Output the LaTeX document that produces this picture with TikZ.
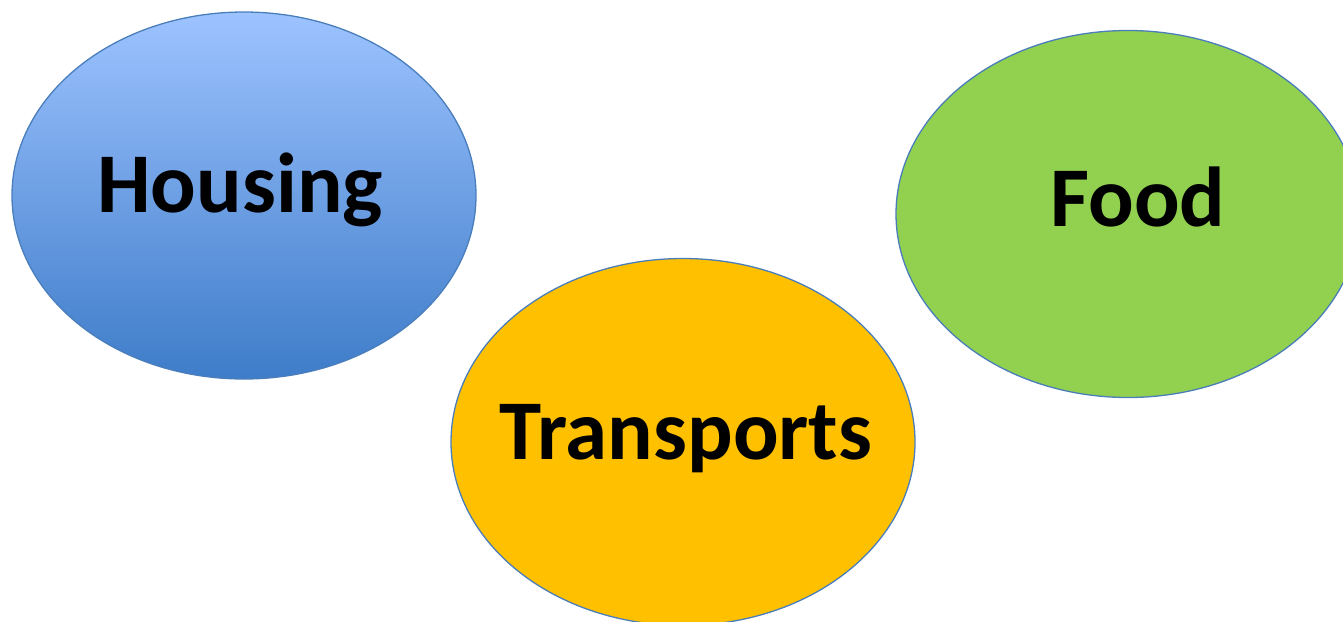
\documentclass[tikz,border=0pt]{standalone}
\usepackage{fontspec}
\setmainfont{Carlito}
\usetikzlibrary{shapes.geometric}
\definecolor{edgeblue}{RGB}{74,126,187}
\definecolor{housetop}{RGB}{157,195,255}
\definecolor{housebot}{RGB}{62,124,201}
\definecolor{transfill}{RGB}{255,192,0}
\definecolor{foodfill}{RGB}{146,208,80}
\begin{document}
\begin{tikzpicture}[x=1pt,y=-1pt,
  blob/.style={ellipse,draw=edgeblue,line width=1.3pt,minimum width=464pt,minimum height=367pt,inner sep=0pt},
  lbl/.style={anchor=base,inner sep=0pt,font=\fontsize{85}{100}\selectfont\bfseries,text=black}]
\useasboundingbox (0,0) rectangle (1343,621);
\node[blob,top color=housetop,bottom color=housebot] (housing) at (244,195.5) {};
\node[blob,fill=foodfill] (food) at (1128,214) {};
\node[blob,fill=transfill] (transports) at (683,442) {};
\node[lbl] (thousing) at (240,212) {Housing};
\node[lbl] (tfood) at (1138,226) {Food};
\node[lbl] (ttransports) at (686,459) {Transports};
\end{tikzpicture}
\end{document}
